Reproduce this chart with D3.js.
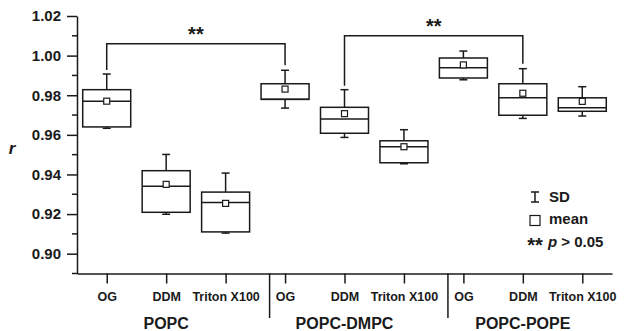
<!DOCTYPE html>
<html>
<head>
<meta charset="utf-8">
<script src="https://cdn.jsdelivr.net/npm/d3@7"></script>
<style>
  body { margin: 0; background: #fff; }
  text { font-family: "Liberation Sans", Arial, sans-serif; font-weight: bold; fill: #1a1a1a; }
</style>
</head>
<body>
<div id="chart"></div>
<script>
// lipid mixtures and detergents
const groups = ["POPC", "POPC-DMPC", "POPC-POPE"];
const detergents = ["OG", "DDM", "Triton X100"];

// box statistics, one entry per box (group x detergent order)
const sdHigh = [0.9907, 0.9501, 0.9407, 0.9926, 0.9828, 0.9626, 1.0023, 0.9934, 0.9843];
const q3     = [0.9828, 0.9419, 0.9311, 0.9858, 0.9739, 0.9570, 0.9988, 0.9858, 0.9787];
const median = [0.9769, 0.9340, 0.9259, 0.9780, 0.9680, 0.9540, 0.9939, 0.9787, 0.9737];
const q1     = [0.9640, 0.9209, 0.9110, 0.9779, 0.9608, 0.9459, 0.9887, 0.9699, 0.9719];
const sdLow  = [0.9633, 0.9199, 0.9104, 0.9735, 0.9587, 0.9454, 0.9878, 0.9683, 0.9695];
const means  = [0.9770, 0.9350, 0.9254, 0.9831, 0.9707, 0.9540, 0.9953, 0.9810, 0.9769];

const yTicks = [0.90, 0.92, 0.94, 0.96, 0.98, 1.00, 1.02];
const yMinorTicks = [0.89, 0.91, 0.93, 0.95, 0.97, 0.99, 1.01];

// significance brackets: box indices and bracket level
const brackets = [
    {from: 0, to: 3, level: 1.006},
    {from: 4, to: 7, level: 1.010}
];

const width = 627, height = 331;
const ink = "#1a1a1a";

const svg = d3.select("#chart").append("svg")
    .attr("width", width)
    .attr("height", height);

svg.append("rect").attr("width", width).attr("height", height).attr("fill", "#fff");

const x = d3.scaleLinear().domain([-0.5, 8.5]).range([77, 612]);
const y = d3.scaleLinear().domain([0.89, 1.02]).range([273.5, 16]);

const boxes = d3.range(sdHigh.length).map(function(i){
    return {i: i, hi: sdHigh[i], q3: q3[i], med: median[i], q1: q1[i], lo: sdLow[i], mean: means[i]};
});

// y axis
const yAxis = svg.append("g")
    .attr("transform", "translate(77,0)")
    .call(d3.axisLeft(y).tickValues(yTicks).tickFormat(d3.format(".2f")).tickSize(10).tickSizeOuter(0));
yAxis.select(".domain").attr("stroke", ink).attr("stroke-width", 1.5);
yAxis.selectAll(".tick line").attr("stroke", ink).attr("stroke-width", 1.5);
yAxis.selectAll(".tick text")
    .attr("x", -16)
    .style("font-size", "15px")
    .style("font-family", "Liberation Sans, Arial, sans-serif")
    .style("font-weight", "bold")
    .attr("fill", ink);

svg.append("g").selectAll("line")
    .data(yMinorTicks)
    .join("line")
    .attr("x1", 72).attr("x2", 77)
    .attr("y1", d => y(d)).attr("y2", d => y(d))
    .attr("stroke", ink).attr("stroke-width", 1.5);

svg.append("text")
    .attr("x", 12).attr("y", 154)
    .attr("text-anchor", "middle")
    .style("font-size", "17px")
    .style("font-style", "italic")
    .text("r");

// x axis
const xAxis = svg.append("g")
    .attr("transform", "translate(0," + y(0.89) + ")")
    .call(d3.axisBottom(x).tickValues(d3.range(9)).tickFormat(d => detergents[d % 3]).tickSize(10).tickSizeOuter(0));
xAxis.select(".domain").attr("stroke", ink).attr("stroke-width", 1.5);
xAxis.selectAll(".tick line").attr("stroke", ink).attr("stroke-width", 1.5);
xAxis.selectAll(".tick text")
    .attr("y", 19)
    .style("font-size", "12.5px")
    .style("font-family", "Liberation Sans, Arial, sans-serif")
    .style("font-weight", "bold")
    .attr("fill", ink);

// group separators
svg.append("g").selectAll("line")
    .data([2.74, 5.74])
    .join("line")
    .attr("x1", d => x(d)).attr("x2", d => x(d))
    .attr("y1", y(0.89)).attr("y2", 318)
    .attr("stroke", ink).attr("stroke-width", 1.5);

svg.append("g").selectAll("text")
    .data(groups)
    .join("text")
    .attr("x", (d, i) => x(i * 3 + 1))
    .attr("y", 329)
    .attr("text-anchor", "middle")
    .style("font-size", "16px")
    .text(d => d);

// boxes
const boxHalf = 24, capHalf = 4;
const g = svg.append("g").selectAll("g")
    .data(boxes)
    .join("g")
    .attr("stroke", ink)
    .attr("stroke-width", 1.5)
    .attr("fill", "none");

g.append("line")
    .attr("x1", d => x(d.i)).attr("x2", d => x(d.i))
    .attr("y1", d => y(d.hi)).attr("y2", d => y(d.q3));
g.append("line")
    .attr("x1", d => x(d.i)).attr("x2", d => x(d.i))
    .attr("y1", d => y(d.lo)).attr("y2", d => y(d.q1));
g.append("line")
    .attr("x1", d => x(d.i) - capHalf).attr("x2", d => x(d.i) + capHalf)
    .attr("y1", d => y(d.hi)).attr("y2", d => y(d.hi));
g.append("line")
    .attr("x1", d => x(d.i) - capHalf).attr("x2", d => x(d.i) + capHalf)
    .attr("y1", d => y(d.lo)).attr("y2", d => y(d.lo));
g.append("rect")
    .attr("x", d => x(d.i) - boxHalf)
    .attr("width", boxHalf * 2)
    .attr("y", d => y(d.q3))
    .attr("height", d => y(d.q1) - y(d.q3));
g.append("line")
    .attr("x1", d => x(d.i) - boxHalf).attr("x2", d => x(d.i) + boxHalf)
    .attr("y1", d => y(d.med)).attr("y2", d => y(d.med));
g.append("rect")
    .attr("x", d => x(d.i) - 3)
    .attr("y", d => y(d.mean) - 3)
    .attr("width", 6).attr("height", 6)
    .attr("stroke-width", 1.2)
    .attr("fill", "#fff");

// significance brackets
brackets.forEach(function(b){
    const yl = y(b.level);
    const leftEnd = y(sdHigh[b.from]) - 4;
    const rightEnd = y(sdHigh[b.to]) - 5;
    svg.append("path")
        .attr("d", "M" + x(b.from) + "," + leftEnd + "V" + yl + "H" + x(b.to) + "V" + rightEnd)
        .attr("fill", "none")
        .attr("stroke", ink)
        .attr("stroke-width", 1.5);
    svg.append("text")
        .attr("x", (x(b.from) + x(b.to)) / 2)
        .attr("y", yl - 2.5)
        .attr("text-anchor", "middle")
        .style("font-size", "20px")
        .text("**");
});

// legend
const legend = svg.append("g").attr("transform", "translate(535,0)");
legend.append("path")
    .attr("d", "M-4,192H4M0,192V202M-4,202H4")
    .attr("stroke", ink).attr("stroke-width", 1.5).attr("fill", "none");
legend.append("rect")
    .attr("x", -5).attr("y", 215.5).attr("width", 10).attr("height", 10)
    .attr("stroke", ink).attr("stroke-width", 1.2).attr("fill", "#fff");
legend.append("text")
    .attr("x", 0).attr("y", 251.5)
    .attr("text-anchor", "middle")
    .style("font-size", "20px")
    .text("**");
legend.append("text").attr("x", 14).attr("y", 202).style("font-size", "15px").text("SD");
legend.append("text").attr("x", 14).attr("y", 224).style("font-size", "15px").text("mean");
const pt = legend.append("text").attr("x", 13).attr("y", 247).style("font-size", "15px");
pt.append("tspan").style("font-style", "italic").text("p");
pt.append("tspan").text(" > 0.05");
</script>
</body>
</html>
